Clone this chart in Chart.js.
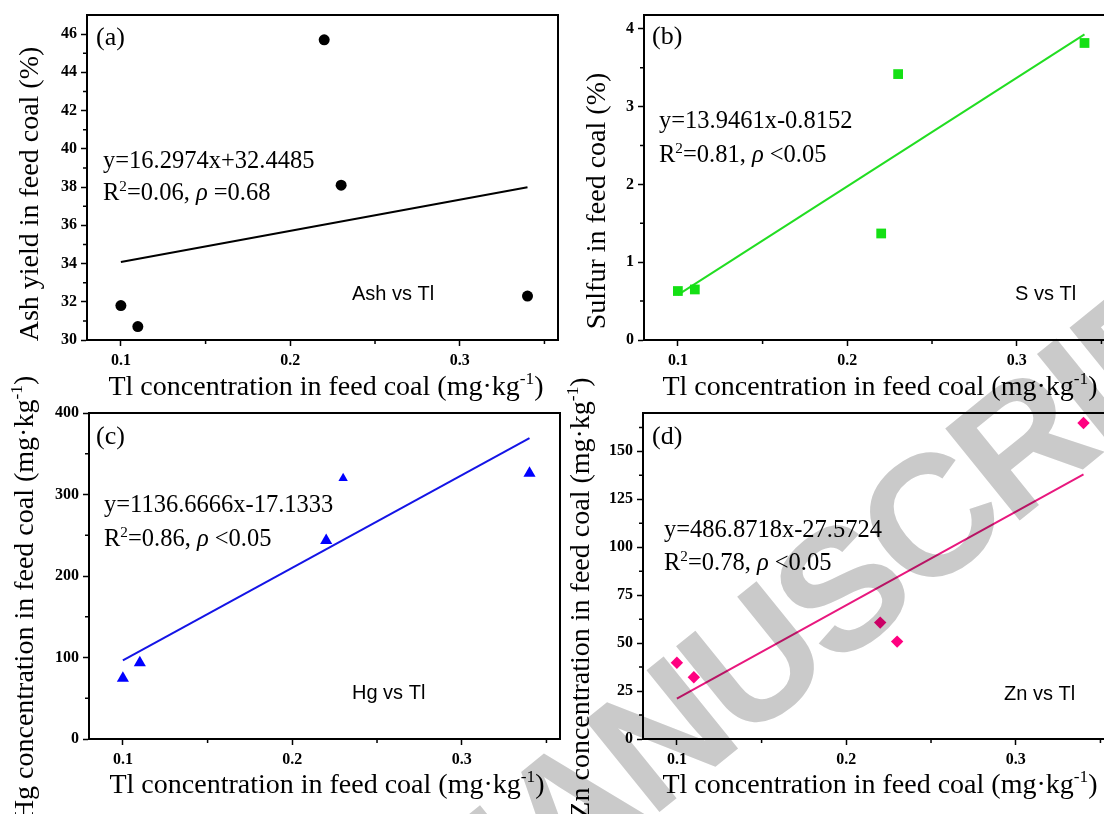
<!DOCTYPE html>
<html><head><meta charset="utf-8">
<script src="https://cdn.jsdelivr.net/npm/chart.js@4.4.1/dist/chart.umd.min.js"></script>
<style>
html,body{margin:0;padding:0;width:1104px;height:814px;overflow:hidden;background:#fff;}
canvas{position:absolute;}
#wm{mix-blend-mode:multiply;pointer-events:none;left:0;top:0;}
</style></head><body>
<canvas id="pa"></canvas>
<canvas id="pb"></canvas>
<canvas id="pc"></canvas>
<canvas id="pd"></canvas>
<canvas id="wm" width="1104" height="814"></canvas>
<script>
// ---- data ----
const tlConc   = [0.10, 0.11, 0.22, 0.23, 0.34];        // Tl concentration in feed coal (mg/kg)
const ashYield = [31.8, 30.7, 45.7, 38.1, 32.3];        // %
const sulfur   = [0.63, 0.65, 1.37, 3.42, 3.82];        // %
const hgConc   = [74.5, 93.5, 243.5, 320, 326];         // mg/kg
const znConc   = [39.8, 32.2, 60.7, 50.8, 164.8];       // mg/kg
const fitX     = [0.10, 0.34];
const ashFit   = [34.08, 37.99];
const sulfurFit= [0.58, 3.93];
const hgFit    = [96.5, 369.3];
const znFit    = [21.1, 137.96];
const xTickLabels = ['0.1', '0.2', '0.3'];

const SERIF = "'Liberation Serif','Times New Roman',serif";
const SANS  = "'Liberation Sans',Arial,sans-serif";

function drawRich(ctx, segs, x, y, size, align) {
  const parts = segs.map(s => {
    if (typeof s === 'string') s = {t: s};
    const fs = s.sup ? size * 0.62 : size;
    const font = (s.it ? 'italic ' : '') + fs + 'px ' + (s.sans ? SANS : SERIF);
    ctx.font = font;
    return {t: s.t, font, w: ctx.measureText(s.t).width, dy: s.sup ? -size * 0.38 : 0};
  });
  const total = parts.reduce((a, p) => a + p.w, 0);
  let cx = align === 'center' ? x - total / 2 : x;
  ctx.textAlign = 'left'; ctx.textBaseline = 'alphabetic';
  for (const p of parts) { ctx.font = p.font; ctx.fillText(p.t, cx, y + p.dy); cx += p.w; }
}

const decor = {
  id: 'decor',
  afterDraw(chart) {
    const P = chart.config.options.panel;
    const ctx = chart.ctx;
    const {left, top, right, bottom} = chart.chartArea;
    ctx.save();
    ctx.strokeStyle = '#000'; ctx.lineWidth = 2;
    ctx.beginPath(); ctx.moveTo(left, top); ctx.lineTo(right, top); ctx.lineTo(right, bottom); ctx.stroke();
    // minor ticks
    ctx.lineWidth = 1.5;
    const xs = chart.scales.x, ys = chart.scales.y;
    ctx.beginPath();
    for (const v of P.xMinor) { const px = xs.getPixelForValue(v); ctx.moveTo(px, bottom); ctx.lineTo(px, bottom + 4); }
    for (const v of P.yMinor) { const py = ys.getPixelForValue(v); ctx.moveTo(left, py); ctx.lineTo(left - 4, py); }
    ctx.stroke();
    // texts
    ctx.fillStyle = '#000';
    const ox = P.box.x, oy = P.box.y;
    for (const T of P.texts) {
      if (T.rot) {
        ctx.save(); ctx.translate(T.x - ox, T.y - oy); ctx.rotate(-Math.PI / 2);
        drawRich(ctx, T.segs, 0, 0, T.size, 'center'); ctx.restore();
      } else {
        drawRich(ctx, T.segs, T.x - ox, T.y - oy, T.size, T.align || 'left');
      }
    }
    ctx.restore();
  }
};

function makePanel(id, P) {
  const c = document.getElementById(id);
  c.width = P.box.w; c.height = P.box.h;
  c.style.left = P.box.x + 'px'; c.style.top = P.box.y + 'px';
  const yW = P.plot.l - P.box.x, padTop = P.plot.t - P.box.y;
  const padRight = P.box.x + P.box.w - P.plot.r, xH = P.box.y + P.box.h - P.plot.b;
  const tickFont = {family: SERIF, size: 16, weight: 'bold'};
  new Chart(c, {
    type: 'scatter',
    data: {datasets: [
      {type: 'line', data: fitX.map((x, i) => ({x, y: P.fit[i]})), borderColor: P.lineColor,
       borderWidth: 2, pointRadius: 0, fill: false, order: 2},
      {type: 'scatter', data: tlConc.map((x, i) => ({x, y: P.values[i]})), pointStyle: P.marker,
       pointRadius: P.radius, pointHoverRadius: P.radius, backgroundColor: P.color, borderWidth: 0, order: 1}
    ]},
    options: {
      panel: P,
      responsive: false, animation: false, devicePixelRatio: 1,
      layout: {padding: {left: 0, top: padTop, right: padRight, bottom: 0}},
      plugins: {legend: {display: false}, tooltip: {enabled: false}},
      scales: {
        x: {type: 'linear', min: 0.08, max: 0.358, afterFit(s) { s.height = xH; },
            ticks: {stepSize: 0.1, includeBounds: false, font: tickFont, color: '#000', padding: 5,
                    maxRotation: 0, autoSkip: false,
                    callback: (v) => xTickLabels[Math.round(v * 10) - 1] ?? ''},
            grid: {drawOnChartArea: false, drawTicks: true, tickLength: 6, tickWidth: 1.5, tickColor: '#000'},
            border: {display: true, width: 2, color: '#000'}},
        y: {type: 'linear', min: P.yMin, max: P.yMax, afterFit(s) { s.width = yW; },
            ticks: {stepSize: P.yStep, includeBounds: false, font: tickFont, color: '#000', padding: 4, autoSkip: false},
            grid: {drawOnChartArea: false, drawTicks: true, tickLength: 6, tickWidth: 1.5, tickColor: '#000'},
            border: {display: true, width: 2, color: '#000'}}
      }
    },
    plugins: [decor]
  });
}

const xTitle = ['Tl concentration in feed coal (mg·kg', {t: '-1', sup: true}, ')'];
const xMinor = [0.15, 0.25, 0.35];

makePanel('pa', {
  box: {x: 0, y: 0, w: 575, h: 407}, plot: {l: 87, t: 15, r: 558, b: 340},
  values: ashYield, fit: ashFit, yMin: 30, yMax: 47, yStep: 2,
  xMinor, yMinor: [31, 33, 35, 37, 39, 41, 43, 45],
  marker: 'circle', radius: 5.5, color: '#000', lineColor: '#000',
  texts: [
    {segs: ['(a)'], x: 96, y: 45, size: 26},
    {segs: ['y=16.2974x+32.4485'], x: 103, y: 168, size: 24.5},
    {segs: ['R', {t: '2', sup: true}, '=0.06, ', {t: 'ρ', it: true}, ' =0.68'], x: 103, y: 200, size: 24.5},
    {segs: [{t: 'Ash vs Tl', sans: true}], x: 352, y: 300, size: 20},
    {segs: xTitle, x: 326, y: 395, size: 28, align: 'center'},
    {segs: ['Ash yield in feed coal (%)'], x: 38, y: 194, size: 28, rot: true}
  ]
});

makePanel('pb', {
  box: {x: 560, y: 0, w: 570, h: 407}, plot: {l: 644, t: 15, r: 1115, b: 340},
  values: sulfur, fit: sulfurFit, yMin: 0, yMax: 4.18, yStep: 1,
  xMinor, yMinor: [0.5, 1.5, 2.5, 3.5],
  marker: 'rect', radius: 6.9, color: '#14e014', lineColor: '#22dd22',
  texts: [
    {segs: ['(b)'], x: 652, y: 44, size: 26},
    {segs: ['y=13.9461x-0.8152'], x: 659, y: 128, size: 24.5},
    {segs: ['R', {t: '2', sup: true}, '=0.81, ', {t: 'ρ', it: true}, ' <0.05'], x: 659, y: 162, size: 24.5},
    {segs: [{t: 'S vs Tl', sans: true}], x: 1015, y: 300, size: 20},
    {segs: xTitle, x: 880, y: 395, size: 28, align: 'center'},
    {segs: ['Sulfur in feed coal (%)'], x: 605, y: 201, size: 28, rot: true}
  ]
});

makePanel('pc', {
  box: {x: 0, y: 360, w: 575, h: 454}, plot: {l: 89, t: 413, r: 560, b: 739},
  values: hgConc, fit: hgFit, yMin: 0, yMax: 400, yStep: 100,
  xMinor, yMinor: [50, 150, 250, 350],
  marker: 'triangle', radius: [7, 7, 7, 5.4, 7], color: '#0000ff', lineColor: '#1414e6',
  texts: [
    {segs: ['(c)'], x: 96, y: 444, size: 26},
    {segs: ['y=1136.6666x-17.1333'], x: 104, y: 512, size: 24.5},
    {segs: ['R', {t: '2', sup: true}, '=0.86, ', {t: 'ρ', it: true}, ' <0.05'], x: 104, y: 546, size: 24.5},
    {segs: [{t: 'Hg vs Tl', sans: true}], x: 352, y: 699, size: 20},
    {segs: xTitle, x: 327, y: 793, size: 28, align: 'center'},
    {segs: ['Hg concentration in feed coal (mg·kg', {t: '-1', sup: true}, ')'], x: 33, y: 598, size: 28, rot: true}
  ]
});

makePanel('pd', {
  box: {x: 560, y: 360, w: 570, h: 454}, plot: {l: 643, t: 413, r: 1114, b: 739},
  values: znConc, fit: znFit, yMin: 0, yMax: 170, yStep: 25,
  xMinor, yMinor: [12.5, 37.5, 62.5, 87.5, 112.5, 137.5, 162.5],
  marker: 'rectRot', radius: 6.2, color: '#ff0080', lineColor: '#e8187e',
  texts: [
    {segs: ['(d)'], x: 652, y: 444, size: 26},
    {segs: ['y=486.8718x-27.5724'], x: 664, y: 537, size: 24.5},
    {segs: ['R', {t: '2', sup: true}, '=0.78, ', {t: 'ρ', it: true}, ' <0.05'], x: 664, y: 570, size: 24.5},
    {segs: [{t: 'Zn vs Tl', sans: true}], x: 1004, y: 700, size: 20},
    {segs: xTitle, x: 880, y: 793, size: 28, align: 'center'},
    {segs: ['Zn concentration in feed coal (mg·kg', {t: '-1', sup: true}, ')'], x: 589, y: 598, size: 28, rot: true}
  ]
});

// watermark overlay
(function () {
  const w = document.getElementById('wm').getContext('2d');
  const F = 172;
  w.font = 'bold ' + F + 'px ' + SANS;
  try { w.letterSpacing = '-6px'; } catch (e) {}
  w.fillStyle = '#cacaca';
  w.translate(926, 517);
  w.rotate(-39 * Math.PI / 180);
  const off = w.measureText('ACCEPTED MANUS').width + w.measureText('C').width / 2;
  w.fillText('ACCEPTED MANUSCRIPT', -off, F * 0.716 / 2);
})();
</script>
</body></html>
